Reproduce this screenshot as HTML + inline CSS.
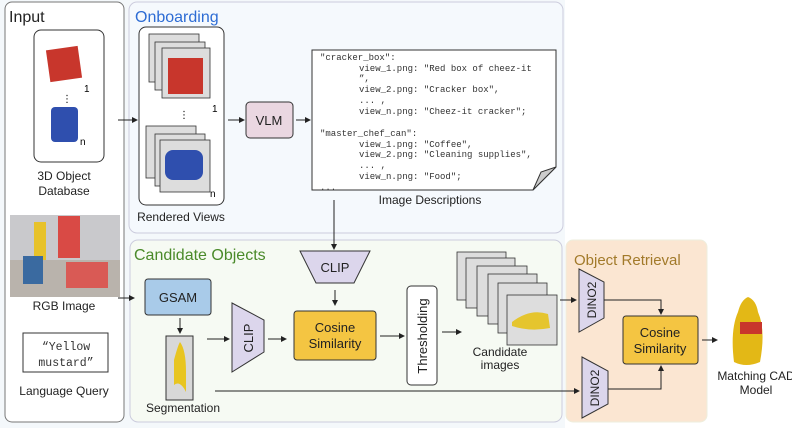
<!DOCTYPE html>
<html><head><meta charset="utf-8"><style>
body{margin:0;background:#fff}
svg{display:block;font-family:"Liberation Sans","DejaVu Sans",sans-serif}
.m{font-family:"Liberation Mono",monospace;font-size:9px;fill:#333}
.l{font-size:12px;fill:#222}
</style></head><body>
<svg width="792" height="428" viewBox="0 0 792 428">
<defs><marker id="a" markerWidth="6" markerHeight="6" refX="5" refY="3" orient="auto"><path d="M0,0 L6,3 L0,6z" fill="#222"/></marker></defs>
<rect width="792" height="428" fill="#fff"/>
<rect x="0" y="0" width="565" height="428" fill="#f4f8fb"/>
<!-- panels -->
<rect x="5" y="2" width="119" height="420" rx="7" fill="#fff" stroke="#777"/>
<rect x="129" y="2" width="434" height="231" rx="8" fill="#f5f9fd" stroke="#ccd"/>
<rect x="130" y="240" width="432" height="182" rx="8" fill="#f6faf3" stroke="#ccd"/>
<rect x="566" y="240" width="141" height="182" rx="7" fill="#fbe6d2" stroke="#eed"/>
<text x="9" y="22" font-size="16" fill="#222">Input</text>
<text x="135" y="22" font-size="16" fill="#2d6cd4">Onboarding</text>
<text x="134" y="260" font-size="16" fill="#4a8a2a">Candidate Objects</text>
<text x="574" y="265" font-size="15" fill="#a27a2a">Object Retrieval</text>
<!-- 3D db -->
<rect x="34" y="30" width="70" height="132" rx="7" fill="#fff" stroke="#333"/>
<rect x="48" y="48" width="32" height="32" fill="#c8362c" transform="rotate(-8 64 64)"/>
<text x="84" y="92" font-size="10">1</text>
<text x="62" y="102" font-size="10">⋮</text>
<rect x="51" y="107" width="27" height="35" rx="4" fill="#2f4fae"/>
<text x="80" y="145" font-size="10">n</text>
<text x="64" y="180" text-anchor="middle" class="l">3D Object</text>
<text x="64" y="195" text-anchor="middle" class="l">Database</text>
<!-- RGB -->
<rect x="10" y="215" width="110" height="82" fill="#b9b3ac"/>
<rect x="10" y="215" width="110" height="45" fill="#c9c9cc"/>
<rect x="34" y="222" width="12" height="38" fill="#e7c22a"/>
<rect x="58" y="216" width="22" height="42" fill="#d94a45"/>
<rect x="23" y="256" width="20" height="28" fill="#3a6aa0"/>
<rect x="66" y="262" width="42" height="26" fill="#d95a55"/>
<text x="64" y="310" text-anchor="middle" class="l">RGB Image</text>
<rect x="23" y="333" width="85" height="39" fill="#fff" stroke="#333"/>
<text x="66" y="350" text-anchor="middle" class="m" style="font-size:11.5px">“Yellow</text>
<text x="66" y="366" text-anchor="middle" class="m" style="font-size:11.5px">mustard”</text>
<text x="64" y="395" text-anchor="middle" class="l">Language Query</text>
<!-- rendered views -->
<rect x="139" y="27" width="85" height="178" rx="7" fill="#fff" stroke="#333"/>
<g stroke="#333" fill="#ddd" stroke-width=".8">
<rect x="149" y="34" width="50" height="48"/><rect x="155" y="42" width="50" height="48"/><rect x="162" y="48" width="48" height="50"/>
<rect x="146" y="126" width="50" height="52"/><rect x="155" y="134" width="50" height="52"/><rect x="160" y="140" width="50" height="52"/></g>
<rect x="168" y="58" width="35" height="36" fill="#c8362c"/>
<rect x="165" y="150" width="38" height="30" rx="8" fill="#2f4fae"/>
<text x="212" y="112" font-size="10">1</text><text x="179" y="118" font-size="10">⋮</text><text x="210" y="197" font-size="10">n</text>
<text x="181" y="221" text-anchor="middle" class="l">Rendered Views</text>
<!-- VLM -->
<rect x="246" y="102" width="47" height="36" rx="4" fill="#ead7e1" stroke="#333"/>
<text x="269" y="125" text-anchor="middle" font-size="13" fill="#222">VLM</text>
<!-- doc -->
<path d="M312,50 H556 V167 L533,190 H312Z" fill="#fff" stroke="#333"/>
<path d="M556,167 L541,172 L533,190Z" fill="#ccc" stroke="#333"/>
<g class="m">
<text x="320" y="60">"cracker_box":</text>
<text x="359" y="71">view_1.png: "Red box of cheez-it</text>
<text x="359" y="81">”,</text>
<text x="359" y="92">view_2.png: "Cracker box",</text>
<text x="359" y="103">... ,</text>
<text x="359" y="114">view_n.png: "Cheez-it cracker";</text>
<text x="320" y="136">"master_chef_can":</text>
<text x="359" y="147">view_1.png: "Coffee",</text>
<text x="359" y="157">view_2.png: "Cleaning supplies",</text>
<text x="359" y="168">... ,</text>
<text x="359" y="179">view_n.png: "Food";</text>
<text x="320" y="190">...</text></g>
<text x="430" y="204" text-anchor="middle" class="l">Image Descriptions</text>
<!-- candidate -->
<path d="M300,251 H370 L354,283 H316Z" fill="#dcd6ec" stroke="#333"/>
<text x="335" y="272" text-anchor="middle" font-size="13" fill="#222">CLIP</text>
<rect x="145" y="279" width="66" height="36" rx="3" fill="#a9cbe9" stroke="#333"/>
<text x="178" y="302" text-anchor="middle" font-size="13" fill="#222">GSAM</text>
<rect x="166" y="336" width="27" height="64" fill="#d8d8d8" stroke="#333"/>
<path d="M174,360 Q178,345 180,342 Q186,350 186,372 L186,392 Q180,380 174,385Z" fill="#e8c520"/>
<text x="183" y="412" text-anchor="middle" class="l">Segmentation</text>
<path d="M232,303 L264,320 V352 L232,372Z" fill="#dcd6ec" stroke="#333"/>
<text transform="translate(253,338) rotate(-90)" text-anchor="middle" font-size="13" fill="#222">CLIP</text>
<rect x="294" y="311" width="82" height="49" rx="3" fill="#f4c542" stroke="#333"/>
<text x="335" y="332" text-anchor="middle" font-size="13" fill="#222">Cosine</text>
<text x="335" y="348" text-anchor="middle" font-size="13" fill="#222">Similarity</text>
<rect x="407" y="286" width="30" height="99" rx="4" fill="#fff" stroke="#333"/>
<text transform="translate(427,336) rotate(-90)" text-anchor="middle" font-size="13" fill="#222">Thresholding</text>
<g stroke="#333" fill="#ddd" stroke-width=".8">
<rect x="457" y="252" width="49" height="48"/><rect x="466" y="258" width="49" height="50"/><rect x="477" y="266" width="50" height="50"/><rect x="488" y="274" width="49" height="50"/><rect x="498" y="283" width="49" height="50"/><rect x="507" y="295" width="50" height="50"/></g>
<path d="M512,322 Q530,308 548,314 L550,328 Q530,332 512,326Z" fill="#e5c52e"/>
<text x="500" y="356" text-anchor="middle" class="l">Candidate</text>
<text x="500" y="369" text-anchor="middle" class="l">images</text>
<!-- retrieval -->
<path d="M579,269 L604,282 V318 L579,332Z" fill="#dcd6ec" stroke="#333"/>
<text transform="translate(596,300) rotate(-90)" text-anchor="middle" font-size="12" fill="#222">DINO2</text>
<path d="M582,357 L608,371 V404 L582,418Z" fill="#dcd6ec" stroke="#333"/>
<text transform="translate(599,388) rotate(-90)" text-anchor="middle" font-size="12" fill="#222">DINO2</text>
<rect x="623" y="316" width="75" height="48" rx="3" fill="#f4c542" stroke="#333"/>
<text x="660" y="337" text-anchor="middle" font-size="13" fill="#222">Cosine</text>
<text x="660" y="353" text-anchor="middle" font-size="13" fill="#222">Similarity</text>
<path d="M738,312 Q741,300 748,297 Q756,300 758,312 Q766,330 760,362 Q746,368 734,362 Q730,330 738,312Z" fill="#e3b816"/>
<rect x="740" y="322" width="22" height="12" fill="#c8362c"/>
<text x="756" y="380" text-anchor="middle" class="l">Matching CAD</text>
<text x="756" y="394" text-anchor="middle" class="l">Model</text>
<!-- arrows -->
<g stroke="#222" stroke-width="1" fill="none" marker-end="url(#a)">
<path d="M118,120 H137"/><path d="M228,120 H244"/><path d="M296,120 H310"/>
<path d="M334,200 V249"/><path d="M118,298 H134"/><path d="M180,318 V333"/>
<path d="M207,339 H229"/><path d="M268,339 H286"/><path d="M335,290 V305"/>
<path d="M380,336 H404"/><path d="M442,332 H461"/><path d="M560,300 H576"/>
<path d="M604,300 H661 V314"/><path d="M215,391 H579"/><path d="M608,389 H661 V366"/>
<path d="M702,340 H717"/></g>
</svg>
</body></html>
